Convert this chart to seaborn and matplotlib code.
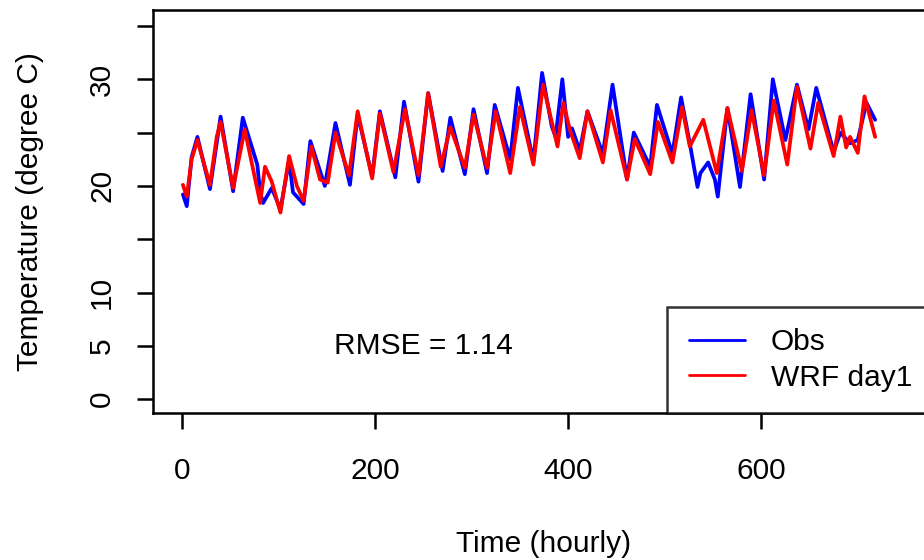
import matplotlib
matplotlib.use("Agg")
import matplotlib.pyplot as plt
import pandas as pd
import seaborn as sns

# values (hour, degree C) at the turning points of each series
obs_hours = [1, 5, 10, 16, 29, 40, 53, 63, 78, 81, 84, 93, 102, 111, 115, 126, 133, 148, 159, 174,
             182, 197, 205, 221, 230, 245, 255, 270, 278, 293, 302, 316, 324, 340, 348, 364, 373, 383,
             387, 394, 400, 404, 412, 420, 436, 446, 461, 468, 485, 492, 508, 517, 526, 534, 537, 545,
             552, 555, 565, 578, 589, 603, 612, 625, 637, 649, 657, 675, 682, 692, 700, 709, 718]
obs_temp = [19.2, 18.1, 22.7, 24.6, 19.7, 26.5, 19.5, 26.4, 22.0, 19.4, 18.4, 19.8, 17.8, 22.4, 19.4,
            18.3, 24.2, 20.0, 25.9, 20.1, 26.7, 20.9, 27.0, 20.8, 27.9, 20.4, 28.7, 21.4, 26.4, 21.1,
            27.2, 21.2, 27.6, 22.5, 29.2, 22.3, 30.6, 25.6, 24.6, 30.0, 24.6, 25.4, 23.3, 27.0, 23.0,
            29.5, 20.6, 25.0, 21.8, 27.6, 23.0, 28.3, 24.0, 19.9, 21.2, 22.2, 20.6, 19.0, 27.3, 19.9,
            28.6, 20.6, 30.0, 24.3, 29.5, 25.3, 29.2, 23.2, 25.0, 24.0, 24.3, 27.8, 26.2]

wrf_hours = [1, 5, 10, 16, 29, 36, 40, 53, 65, 81, 86, 93, 102, 111, 119, 126, 134, 143, 151, 159,
             173, 182, 197, 205, 219, 231, 245, 255, 268, 278, 293, 302, 316, 325, 340, 350, 364, 374,
             389, 395, 402, 412, 420, 436, 444, 461, 469, 485, 493, 508, 518, 526, 540, 554, 565, 580,
             590, 603, 613, 627, 637, 651, 659, 675, 682, 688, 692, 700, 707, 718]
wrf_temp = [20.1, 19.0, 22.5, 24.3, 20.1, 24.6, 26.0, 19.8, 25.3, 18.4, 21.8, 20.4, 17.5, 22.8, 20.0,
            18.6, 23.7, 20.6, 20.3, 25.0, 21.0, 27.0, 20.7, 26.8, 21.3, 27.2, 21.0, 28.7, 21.8, 25.5,
            21.7, 26.7, 21.7, 27.0, 21.2, 27.4, 22.0, 29.5, 23.7, 27.8, 25.2, 22.6, 27.0, 22.2, 27.1,
            20.6, 24.4, 21.1, 26.0, 22.2, 27.4, 23.7, 26.2, 21.2, 27.3, 21.4, 27.1, 21.0, 28.0, 22.0,
            29.3, 23.5, 27.8, 22.8, 26.5, 23.6, 24.6, 23.1, 28.4, 24.6]

series_names = ["Obs", "WRF day1"]
series_colors = ["#0000FF", "#FF0000"]
rmse_text = "RMSE = 1.14"
x_ticks = [0, 200, 400, 600]
y_ticks = [0, 5, 10, 15, 20, 25, 30, 35]
y_tick_labels = ["0", "5", "10", "", "20", "", "30", ""]


def main() -> None:
    sns.set_style("ticks")
    plt.rcParams["font.family"] = ["Liberation Sans", "DejaVu Sans"]
    plt.rcParams["text.color"] = "black"
    plt.rcParams["axes.labelcolor"] = "black"
    fs = 21.5

    df = pd.concat([
        pd.DataFrame({"hour": obs_hours, "temp": obs_temp, "series": series_names[0]}),
        pd.DataFrame({"hour": wrf_hours, "temp": wrf_temp, "series": series_names[1]}),
    ], ignore_index=True)

    fig = plt.figure(figsize=(9.24, 5.6), dpi=100)
    ax = fig.add_axes([153 / 924, 1 - 413 / 560, 782 / 924, 403 / 560])
    sns.lineplot(data=df, x="hour", y="temp", hue="series", hue_order=series_names,
                 palette=dict(zip(series_names, series_colors)), estimator=None, sort=False,
                 linewidth=2.7, ax=ax)
    for line in ax.get_lines():
        line.set_solid_joinstyle("round")
        line.set_solid_capstyle("round")

    ax.set_xlim(-30, 780)
    ax.set_ylim(-1.3, 36.5)
    ax.set_xticks(x_ticks)
    ax.set_yticks(y_ticks)
    ax.set_yticklabels(y_tick_labels)
    ax.tick_params(axis="both", direction="out", length=11.5, width=1.8, color="black",
                   labelsize=fs, labelcolor="black")
    ax.tick_params(axis="x", pad=20)
    ax.tick_params(axis="y", pad=15)
    for lab in ax.get_yticklabels():
        lab.set_rotation(90)
        lab.set_va("center")
    for sp in ax.spines.values():
        sp.set_visible(True)
        sp.set_color("black")
        sp.set_linewidth(1.8)

    ax.set_xlabel("Time (hourly)", fontsize=fs, color="black")
    ax.set_ylabel("Temperature (degree C)", fontsize=fs, color="black")
    ax.xaxis.set_label_coords(0.5, -0.29)
    ax.yaxis.set_label_coords(-0.14, 0.5)

    ax.text(250, 5, rmse_text, ha="center", va="center", fontsize=fs, color="black")

    handles, labels = ax.get_legend_handles_labels()
    leg = ax.legend(handles, labels, loc="lower left", bbox_to_anchor=((667 - 153) / 782, 0),
                    frameon=True, fancybox=False, fontsize=fs, handlelength=1.9,
                    handletextpad=0.85, borderpad=0.72, labelspacing=0.25, borderaxespad=0)
    leg.get_frame().set_edgecolor("black")
    leg.get_frame().set_linewidth(1.8)
    for text in leg.get_texts():
        text.set_color("black")
    for line in leg.get_lines():
        line.set_linewidth(2.0)

    fig.savefig("out.png", dpi=100)
    plt.close(fig)


if __name__ == "__main__":
    main()
